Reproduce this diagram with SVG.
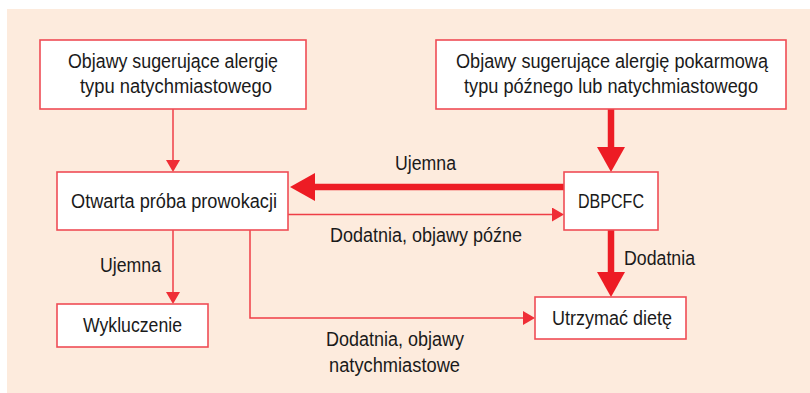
<svg xmlns="http://www.w3.org/2000/svg" width="810" height="393" viewBox="0 0 810 393">
  <style>
    .box { fill: #ffffff; stroke: #EF4D55; stroke-width: 1.6; }
    .t { font-family: "Liberation Sans", Arial, sans-serif; font-size: 20px; fill: #1a1a1a; }
    .thin { stroke: #EF3E46; stroke-width: 1.5; fill: none; }
    .thick { stroke: #ED1C24; stroke-width: 6.5; fill: none; }
  </style>
  <defs>
    <marker id="mThin" markerUnits="userSpaceOnUse" viewBox="0 0 12 14" refX="4" refY="7" markerWidth="12" markerHeight="14" orient="auto">
      <path d="M0,0 L12,7 L0,14 Z" fill="#EF2E36"/>
    </marker>
    <marker id="mThick" markerUnits="userSpaceOnUse" viewBox="0 0 25 28" refX="5" refY="14" markerWidth="25" markerHeight="28" orient="auto">
      <path d="M0,0 L25,14 L0,28 Z" fill="#ED1C24"/>
    </marker>
  </defs>

  <rect x="7" y="9" width="803" height="384" fill="#FDEBDD"/>

  <g id="connectors">
    <line class="thin" x1="173" y1="109" x2="173" y2="164" marker-end="url(#mThin)"/>
    <line class="thick" x1="611" y1="109" x2="611" y2="152" marker-end="url(#mThick)"/>
    <line class="thick" x1="564" y1="187" x2="310" y2="187" marker-end="url(#mThick)"/>
    <line class="thin" x1="288" y1="214.5" x2="556" y2="214.5" marker-end="url(#mThin)"/>
    <line class="thin" x1="173" y1="230" x2="173" y2="296" marker-end="url(#mThin)"/>
    <polyline class="thin" points="250,230 250,318 527,318" marker-end="url(#mThin)"/>
    <line class="thick" x1="611" y1="230" x2="611" y2="277" marker-end="url(#mThick)"/>
    <text class="t" x="395" y="170" textLength="61" lengthAdjust="spacingAndGlyphs">Ujemna</text>
    <text class="t" x="330" y="242" textLength="192" lengthAdjust="spacingAndGlyphs">Dodatnia, objawy późne</text>
    <text class="t" x="100" y="272" textLength="61" lengthAdjust="spacingAndGlyphs">Ujemna</text>
    <text class="t" x="624" y="265" textLength="71" lengthAdjust="spacingAndGlyphs">Dodatnia</text>
    <text class="t" x="326" y="346" textLength="138" lengthAdjust="spacingAndGlyphs">Dodatnia, objawy</text>
    <text class="t" x="329" y="372" textLength="131" lengthAdjust="spacingAndGlyphs">natychmiastowe</text>
  </g>

  <g id="n1">
    <rect class="box" x="40" y="40" width="266" height="69"/>
    <text class="t" x="68" y="67.5" textLength="210" lengthAdjust="spacingAndGlyphs">Objawy sugerujące alergię</text>
    <text class="t" x="80" y="92.5" textLength="192" lengthAdjust="spacingAndGlyphs">typu natychmiastowego</text>
  </g>
  <g id="n2">
    <rect class="box" x="436" y="40" width="350" height="69"/>
    <text class="t" x="456" y="67.5" textLength="312" lengthAdjust="spacingAndGlyphs">Objawy sugerujące alergię pokarmową</text>
    <text class="t" x="464" y="92.5" textLength="294" lengthAdjust="spacingAndGlyphs">typu późnego lub natychmiastowego</text>
  </g>
  <g id="n3">
    <rect class="box" x="57" y="172" width="231" height="58"/>
    <text class="t" x="71" y="208" textLength="206" lengthAdjust="spacingAndGlyphs">Otwarta próba prowokacji</text>
  </g>
  <g id="n4">
    <rect class="box" x="564" y="172" width="94" height="58"/>
    <text class="t" x="578" y="208" textLength="66" lengthAdjust="spacingAndGlyphs">DBPCFC</text>
  </g>
  <g id="n5">
    <rect class="box" x="57" y="304" width="151" height="43"/>
    <text class="t" x="83" y="332" textLength="99" lengthAdjust="spacingAndGlyphs">Wykluczenie</text>
  </g>
  <g id="n6">
    <rect class="box" x="535" y="297" width="151" height="42"/>
    <text class="t" x="552" y="325" textLength="120" lengthAdjust="spacingAndGlyphs">Utrzymać dietę</text>
  </g>
</svg>
